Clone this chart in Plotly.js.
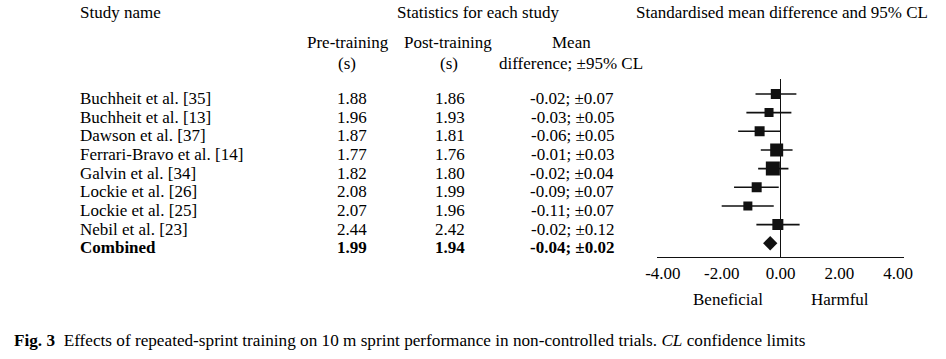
<!DOCTYPE html>
<html>
<head>
<meta charset="utf-8">
<script src="https://cdn.plot.ly/plotly-3.0.1.min.js"></script>
<style>html,body{margin:0;padding:0;background:#fff;}#chart{width:946px;height:359px;}</style>
</head>
<body>
<div id="chart"></div>
<script>
// ---- data ----
const studies = ["Buchheit et al. [35]", "Buchheit et al. [13]", "Dawson et al. [37]", "Ferrari-Bravo et al. [14]",
  "Galvin et al. [34]", "Lockie et al. [26]", "Lockie et al. [25]", "Nebil et al. [23]"];
const preTraining = [1.88, 1.96, 1.87, 1.77, 1.82, 2.08, 2.07, 2.44];
const postTraining = [1.86, 1.93, 1.81, 1.76, 1.80, 1.99, 1.96, 2.42];
const meanDiff = [-0.02, -0.03, -0.06, -0.01, -0.02, -0.09, -0.11, -0.02];
const meanCL = [0.07, 0.05, 0.05, 0.03, 0.04, 0.07, 0.07, 0.12];
const smd = [-0.16, -0.39, -0.71, -0.13, -0.26, -0.81, -1.11, -0.09];
const smdLower = [-0.85, -1.16, -1.44, -0.67, -0.76, -1.58, -2.00, -0.82];
const smdUpper = [0.54, 0.37, 0.00, 0.41, 0.27, -0.06, -0.23, 0.65];
const weights = [11.6, 10.5, 11.6, 15.1, 16.3, 11.6, 10.5, 12.8];
const combined = {label: "Combined", pre: 1.99, post: 1.94, diff: -0.04, cl: 0.02, smd: -0.35};
const xTicks = [-4, -2, 0, 2, 4];
const xTickLabels = ["-4.00", "-2.00", "0.00", "2.00", "4.00"];

// ---- build ----
const rows = studies.map((_, i) => i);
const combRow = studies.length;
const FONT = "Liberation Serif, Times New Roman, serif";
const fmt = v => v.toFixed(2);
const fmtDiff = (d, c) => fmt(d) + "; \u00b1" + fmt(c);

const traces = [
  {
    type: "scatter", mode: "markers",
    x: smd, y: rows,
    marker: {symbol: "square", color: "#111", opacity: 1, size: weights.map(w => w * 0.86), line: {width: 0}},
    error_x: {type: "data", symmetric: false,
      array: smd.map((v, i) => smdUpper[i] - v),
      arrayminus: smd.map((v, i) => v - smdLower[i]),
      color: "#111", thickness: 1.6, width: 0},
    hoverinfo: "skip", showlegend: false
  },
  {
    type: "scatter", mode: "markers",
    x: [combined.smd], y: [combRow],
    marker: {symbol: "diamond", color: "#111", opacity: 1, size: 11, line: {width: 0}},
    hoverinfo: "skip", showlegend: false
  }
];

const W = 946, H = 359;
const px = v => v / W;
const py = v => 1 - v / H;
const ann = [];
const txt = (text, x, y, opts) => ann.push(Object.assign({
  text, x, y, xref: "paper", yref: "paper", showarrow: false,
  font: {family: FONT, size: 17, color: "#000"}, xanchor: "center", yanchor: "middle"
}, opts || {}));

// headers
txt("Study name", px(78), py(12), {xanchor: "left"});
txt("Statistics for each study", px(478), py(12));
txt("Standardised mean difference and 95% CL", px(782), py(12));
txt("Pre-training", px(348), py(43));
txt("(s)", px(347), py(63));
txt("Post-training", px(448), py(43));
txt("(s)", px(449), py(63));
txt("Mean", px(571), py(43));
txt("difference; \u00b195% CL", px(571), py(63));

// table rows, aligned to the forest plot rows
const rowAnn = (text, x, r, opts) => ann.push(Object.assign({
  text, x, y: r, xref: "paper", yref: "y", showarrow: false, yshift: -4.5,
  font: {family: FONT, size: 17, color: "#000"}, xanchor: "center", yanchor: "middle"
}, opts || {}));
rows.forEach(i => {
  rowAnn(studies[i], px(78), i, {xanchor: "left"});
  rowAnn(fmt(preTraining[i]), px(352), i);
  rowAnn(fmt(postTraining[i]), px(450), i);
  rowAnn(fmtDiff(meanDiff[i], meanCL[i]), px(572), i);
});
rowAnn("<b>" + combined.label + "</b>", px(78), combRow, {xanchor: "left"});
rowAnn("<b>" + fmt(combined.pre) + "</b>", px(352), combRow);
rowAnn("<b>" + fmt(combined.post) + "</b>", px(450), combRow);
rowAnn("<b>" + fmtDiff(combined.diff, combined.cl) + "</b>", px(572), combRow);

// axis side labels
txt("Beneficial", px(727.5), py(299));
txt("Harmful", px(840), py(299));

// caption
txt("<b>Fig. 3</b>  Effects of repeated-sprint training on 10 m sprint performance in non-controlled trials. <i>CL</i> confidence limits",
  px(12), py(340), {xanchor: "left", font: {family: FONT, size: 17.2, color: "#000"}});

const layout = {
  width: W, height: H,
  margin: {l: 0, r: 0, t: 0, b: 0},
  paper_bgcolor: "#fff", plot_bgcolor: "#fff",
  showlegend: false,
  xaxis: {
    domain: [px(657), px(904)], range: [-4.2, 4.2],
    showgrid: false, zeroline: true, zerolinecolor: "#111", zerolinewidth: 1.6,
    showline: true, linecolor: "#111", linewidth: 1.6,
    tickvals: xTicks, ticktext: xTickLabels, ticks: "",
    tickfont: {family: FONT, size: 17, color: "#000"},
    fixedrange: true
  },
  yaxis: {
    domain: [py(256.7), py(79)], range: [8.72, -0.8],
    showgrid: false, zeroline: false, showline: false, showticklabels: false, ticks: "",
    fixedrange: true
  },
  annotations: ann
};

Plotly.newPlot("chart", traces, layout, {staticPlot: true, displayModeBar: false});
</script>
</body>
</html>
